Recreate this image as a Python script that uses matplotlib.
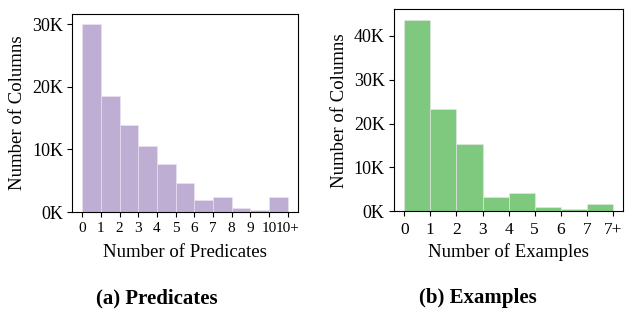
import matplotlib
matplotlib.use("Agg")
import matplotlib.pyplot as plt
from matplotlib.ticker import FuncFormatter
import numpy as np

plt.rcParams['font.family'] = ['Liberation Serif', 'DejaVu Serif']

# Panel (a): predicates
pred_bins = [0, 1, 2, 3, 4, 5, 6, 7, 8, 9, 10]
pred_counts = [30000, 18600, 13850, 10600, 7670, 4580, 1920, 2340, 690, 270, 2340]
pred_ticklabels = ["0", "1", "2", "3", "4", "5", "6", "7", "8", "9", "10", "10+"]

# Panel (b): examples
ex_bins = [0, 1, 2, 3, 4, 5, 6, 7]
ex_counts = [43600, 23400, 15400, 3330, 4160, 980, 450, 1660]
ex_ticklabels = ["0", "1", "2", "3", "4", "5", "6", "7", "7+"]

purple = "#beaed4"
green = "#7fc97f"

fig = plt.figure(figsize=(6.26, 3.10), dpi=100)
ax1 = fig.add_axes([0.115, 0.316, 0.361, 0.639])
ax2 = fig.add_axes([0.629, 0.318, 0.367, 0.652])

kfmt = FuncFormatter(lambda v, p: f"{int(round(v / 1000))}K")

def draw(ax, bins, counts, ticklabels, color, xlabel, yticks, xsize, xpad):
    ax.bar(bins, counts, width=1.0, align='edge', color=color,
           edgecolor='#ece6f2', linewidth=0.4)
    ax.set_xticks(np.arange(len(ticklabels)))
    ax.set_xticklabels(ticklabels)
    ax.set_yticks(yticks)
    ax.yaxis.set_major_formatter(kfmt)
    ax.set_xlabel(xlabel, fontsize=13.5, labelpad=xpad)
    ax.set_ylabel("Number of Columns", fontsize=13.5, labelpad=4)
    ax.tick_params(axis='y', labelsize=13, length=3.5, width=0.8, pad=3)
    ax.tick_params(axis='x', labelsize=xsize, length=3.5, width=0.8, pad=4)
    for s in ax.spines.values():
        s.set_linewidth(0.8)
    n = len(bins)
    ax.set_xlim(-0.05 * n, n + 0.05 * n)
    ax.set_ylim(0, max(counts) * 1.055)

draw(ax1, pred_bins, pred_counts, pred_ticklabels, purple,
     "Number of Predicates", [0, 10000, 20000, 30000], 11, 6)
draw(ax2, ex_bins, ex_counts, ex_ticklabels, green,
     "Number of Examples", [0, 10000, 20000, 30000, 40000], 12.5, 4)

fig.text(0.251, 0.038, "(a) Predicates", ha='center', va='center',
         fontsize=15, fontweight='bold')
fig.text(0.764, 0.038, "(b) Examples", ha='center', va='center',
         fontsize=15, fontweight='bold')

fig.savefig("out.png", dpi=100)
